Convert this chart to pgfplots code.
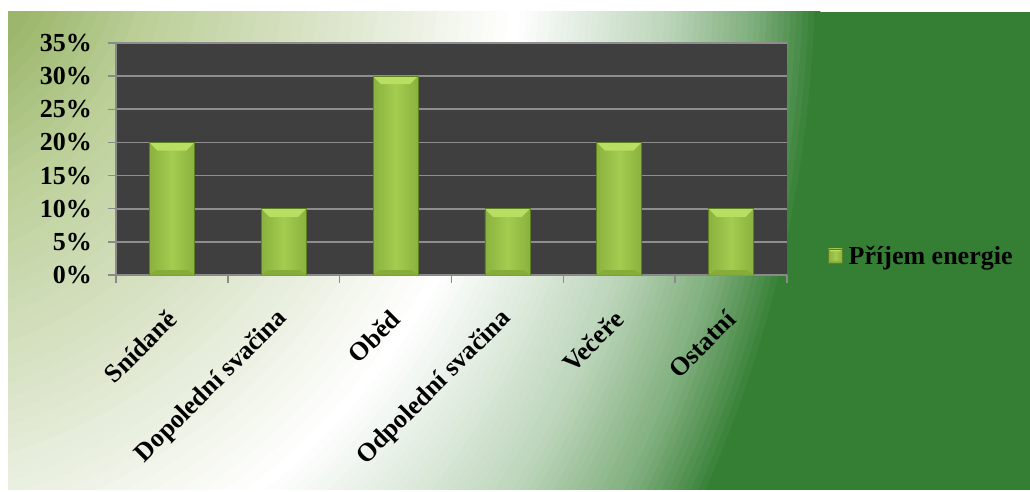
\documentclass[border=0pt]{standalone}
\usepackage{pgfplots}
\pgfplotsset{compat=1.18}
\usepackage{fontspec}
\setmainfont{Liberation Serif}
\definecolor{dkgreen}{HTML}{357F35}
\definecolor{oc1}{HTML}{BCD5BA}
\definecolor{oc2}{HTML}{86B384}
\definecolor{oc3}{HTML}{5A9658}
\definecolor{ic1}{HTML}{DAE4C8}
\definecolor{ic2}{HTML}{BDD09A}
\definecolor{ic3}{HTML}{9CB76B}
\definecolor{plotbg}{HTML}{3F3F3F}
\definecolor{gridgray}{HTML}{8E8E8E}
\definecolor{axgray}{HTML}{8A8A8A}
\definecolor{barSide}{HTML}{8AB23E}
\definecolor{barMid}{HTML}{A3CC50}
\definecolor{barEdge}{HTML}{5F7F25}
\definecolor{barTop}{HTML}{B8DE62}
\definecolor{barBot}{HTML}{86AC3A}
\newcommand\lblfont{\bfseries\fontsize{26bp}{30bp}\selectfont}
\newcommand\bevel{%
 \pgfpointanchor{path picture bounding box}{north west}\pgfgetlastxy{\bx}{\by}%
 \pgfpointanchor{path picture bounding box}{south east}\pgfgetlastxy{\ex}{\ey}%
 \pgfmathsetlengthmacro\bw{0.18*(\ex-\bx)}%
 \pgfsetfillcolor{barTop}%
 \pgfpathmoveto{\pgfqpoint{\bx}{\by}}\pgfpathlineto{\pgfqpoint{\ex}{\by}}%
 \pgfpathlineto{\pgfpoint{\ex-\bw}{\by-\bw}}\pgfpathlineto{\pgfpoint{\bx+\bw}{\by-\bw}}%
 \pgfpathclose\pgfusepath{fill}%
 \pgfsetfillcolor{barBot}%
 \pgfpathmoveto{\pgfqpoint{\bx}{\ey}}\pgfpathlineto{\pgfqpoint{\ex}{\ey}}%
 \pgfpathlineto{\pgfpoint{\ex-0.75*\bw}{\ey+0.6*\bw}}\pgfpathlineto{\pgfpoint{\bx+0.75*\bw}{\ey+0.6*\bw}}%
 \pgfpathclose\pgfusepath{fill}%
}
\pgfplotsset{barsty/.style={ybar, bar width=45bp, draw=barEdge, line width=0.6bp,
  left color=barSide, right color=barSide, middle color=barMid,
  path picture={\bevel}}}
\begin{document}
\begin{tikzpicture}
\begin{scope}[x=1bp,y=1bp]
\useasboundingbox (0,0) rectangle (1030,492);
\fill[white] (0,0) rectangle (1030,492);
\begin{scope}
\clip (8,2) rectangle (1030,480);
\fill[dkgreen] (8,2) rectangle (1030,480);
% outer band: from dark (i=50) to white (i=0)
\foreach \i in {50,49,...,0}{
  \pgfmathsetmacro\s{\i/50}
  \pgfmathsetmacro\cx{-165-320*\s}
  \pgfmathsetmacro\cy{539-15*\s}
  \pgfmathsetmacro\r{688+618*\s}
  \ifnum\i<25
    \pgfmathtruncatemacro\p{\i*4}\colorlet{cc}{oc1!\p!white}%
  \else\ifnum\i<38
    \pgfmathtruncatemacro\p{(\i-25)*8}\colorlet{cc}{oc2!\p!oc1}%
  \else\ifnum\i<45
    \pgfmathtruncatemacro\p{(\i-38)*100/7}\colorlet{cc}{oc3!\p!oc2}%
  \else
    \pgfmathtruncatemacro\p{(\i-45)*20}\colorlet{cc}{dkgreen!\p!oc3}%
  \fi\fi\fi
  \fill[cc] (\cx,\cy) circle[radius=\r];
}
% inner band: from white (j=0) to olive (j=40)
\foreach \j in {0,1,...,40}{
  \pgfmathsetmacro\u{\j/40}
  \pgfmathsetmacro\cx{-165+65*\u}
  \pgfmathsetmacro\cy{539+13*\u}
  \pgfmathsetmacro\r{688-538*\u}
  \ifnum\j<16
    \pgfmathtruncatemacro\p{\j*100/16}\colorlet{cc}{ic1!\p!white}%
  \else\ifnum\j<30
    \pgfmathtruncatemacro\p{(\j-16)*100/14}\colorlet{cc}{ic2!\p!ic1}%
  \else
    \pgfmathtruncatemacro\p{(\j-30)*10}\colorlet{cc}{ic3!\p!ic2}%
  \fi\fi
  \fill[cc] (\cx,\cy) circle[radius=\r];
}
\end{scope}
\end{scope}
\begin{axis}[
  at={(116bp,217bp)}, anchor=south west,
  scale only axis, width=671bp, height=232bp,
  xmin=-0.5, xmax=5.5, ymin=0, ymax=35,
  axis background/.style={fill=plotbg},
  axis x line*=bottom, axis y line*=left,
  axis line style={draw=axgray, line width=1.4bp},
  ytick={0,5,...,35},
  yticklabels={0\%,5\%,10\%,15\%,20\%,25\%,30\%,35\%},
  ymajorgrids, grid style={draw=gridgray, line width=1.6bp},
  xtick={0,...,5},
  xticklabels={Snídaně,Dopolední svačina,Oběd,Odpolední svačina,Večeře,Ostatní},
  minor xtick={-0.5,0.5,...,5.5},
  tick align=outside, major tick length=8bp, minor tick length=8bp,
  tick style={draw=axgray, line width=1.4bp},
  major x tick style={draw=none},
  tick label style={font=\lblfont, text=black},
  yticklabel style={anchor=east, inner sep=0pt, xshift=-16bp},
  xticklabel style={inner sep=0pt, xshift=0bp, yshift=-32bp, rotate=45, anchor=east},
  legend style={at={(1.061,0.082)}, anchor=west, draw=none, fill=none,
    font=\lblfont, inner sep=0pt,
    /tikz/every odd column/.append style={column sep=4bp}},
  legend image code/.code={\draw (0bp,-7bp) rectangle (14bp,7bp);},
]
\addplot[barsty] coordinates {(0,20)};
\addlegendentry{Příjem energie}
\addplot[barsty, forget plot] coordinates {(1,10)};
\addplot[barsty, forget plot] coordinates {(2,30)};
\addplot[barsty, forget plot] coordinates {(3,10)};
\addplot[barsty, forget plot] coordinates {(4,20)};
\addplot[barsty, forget plot] coordinates {(5,10)};
\end{axis}
\end{tikzpicture}
\end{document}
